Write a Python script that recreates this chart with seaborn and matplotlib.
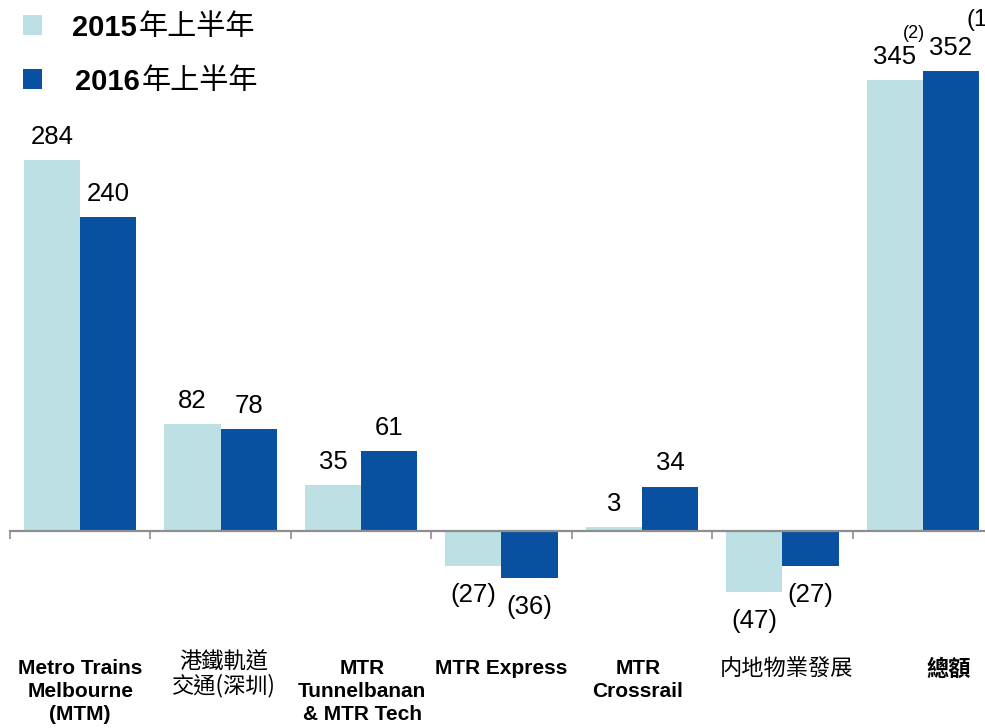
import numpy as np
import pandas as pd
import seaborn as sns
import matplotlib
matplotlib.use("Agg")
import matplotlib.pyplot as plt
import matplotlib.transforms as mtransforms
from matplotlib.patches import Rectangle

# ---------------- data ----------------
categories = ["Metro Trains\nMelbourne\n(MTM)", "港鐵軌道\n交通(深圳)", "MTR\nTunnelbanan\n& MTR Tech",
              "MTR Express", "MTR\nCrossrail", "内地物業發展", "總額"]
cat_bold = [True, False, True, True, True, False, True]
series_names = ["2015年上半年", "2016年上半年"]
h1_2015 = [284, 82, 35, -27, 3, -47, 345]
h1_2016 = [240, 78, 61, -36, 34, -27, 352]

LIGHT = "#BCE0E4"
DARK = "#0A50A0"
AXIS_GRAY = "#8E8E8E"
LATIN = "Liberation Sans"
CJK = "Noto Sans CJK TC"
FAM = [LATIN, CJK, "DejaVu Sans"]

df = pd.DataFrame({
    "cat": categories * 2,
    "value": h1_2015 + h1_2016,
    "period": [series_names[0]] * len(categories) + [series_names[1]] * len(categories),
})

sns.set_theme(style="white")
plt.rcParams["font.family"] = FAM
plt.rcParams["text.color"] = "black"

W, H = 985, 728
fig = plt.figure(figsize=(W / 100, H / 100), dpi=100)
# axes geometry: x from 10px to 993px, y zero line at 531px
ymin, ymax = -100, 400
ppu = 371 / 284.0
bottom_px = 531 + (-ymin) * ppu
top_px = 531 - ymax * ppu
ax = fig.add_axes([10 / W, 1 - bottom_px / H, 983 / W, (bottom_px - top_px) / H])

sns.barplot(data=df, x="cat", y="value", hue="period", order=categories,
            hue_order=series_names, palette=[LIGHT, DARK], width=0.8, gap=0,
            linewidth=0, saturation=1, legend=False, ax=ax)

ax.set_xlim(-0.5, len(categories) - 0.5)
ax.set_ylim(ymin, ymax)
ax.set_xlabel("")
ax.set_ylabel("")
ax.set_yticks([])
for s in ["top", "left", "right"]:
    ax.spines[s].set_visible(False)
ax.spines["bottom"].set_position(("data", 0))
ax.spines["bottom"].set_color(AXIS_GRAY)
ax.spines["bottom"].set_linewidth(1.6)
ax.set_xticks(np.arange(-0.5, len(categories), 1.0))
ax.tick_params(axis="x", direction="out", length=6, width=1.2, color=AXIS_GRAY,
               labelbottom=False, bottom=True)

# ---------------- value labels ----------------
def fmt(v):
    return f"({abs(v)})" if v < 0 else f"{v}"

for cont, vals in zip(ax.containers, [h1_2015, h1_2016]):
    for bar, v in zip(cont, vals):
        xc = bar.get_x() + bar.get_width() / 2
        if v >= 0:
            ax.annotate(fmt(v), xy=(xc, v), xytext=(0, 8), textcoords="offset points",
                        ha="center", va="bottom", fontsize=18.5, family=LATIN,
                        color="black", annotation_clip=False)
        else:
            ax.annotate(fmt(v), xy=(xc, v), xytext=(0, -12), textcoords="offset points",
                        ha="center", va="top", fontsize=18.5, family=LATIN,
                        color="black", annotation_clip=False)

# footnote marks on the total
fig.text(903 / W, 1 - 34 / H, "(2)", fontsize=13, family=LATIN, ha="left", va="center",
         color="black")
fig.text(966 / W, 1 - 20 / H, "(1)", fontsize=17, family=LATIN, ha="left", va="center",
         color="black")

# ---------------- category labels ----------------
label_dx_px = [0, 3, 1, 0, -4, 4, 26]
label_top_px = [659, 651, 659, 659, 659, 658, 658]
base = mtransforms.blended_transform_factory(ax.transData, fig.transFigure)
for i, (cat, b) in enumerate(zip(categories, cat_bold)):
    tr = mtransforms.offset_copy(base, fig=fig, x=label_dx_px[i] * 0.72, y=0, units="points")
    is_cjk = any(ord(c) > 0x2E80 for c in cat)
    ax.text(i, 1 - label_top_px[i] / H, cat, transform=tr, ha="center", va="top",
            fontsize=16 if is_cjk else 15, fontweight="bold" if b else "medium",
            family=[CJK, LATIN] if is_cjk else FAM, linespacing=1.25 if not is_cjk else 1.0,
            color="black", clip_on=False)

# ---------------- legend ----------------
for (yc, col, name, xt) in [(25, LIGHT, series_names[0], 72), (79, DARK, series_names[1], 75)]:
    fig.patches.append(Rectangle((23 / W, 1 - (yc + 9.5) / H), 19 / W, 19 / H,
                                 transform=fig.transFigure, facecolor=col, edgecolor="none"))
    year, rest = name[:4], name[4:]
    t1 = fig.text(xt / W, 1 - yc / H, year, fontsize=21, fontweight="bold", family=LATIN,
                  ha="left", va="center_baseline", color="black")
    ax.annotate(rest, xy=(1, 0), xycoords=t1, xytext=(1, 0), textcoords="offset points",
                fontsize=21, family=CJK, ha="left", va="bottom", color="black",
                annotation_clip=False)

fig.savefig("out.png", dpi=100)
